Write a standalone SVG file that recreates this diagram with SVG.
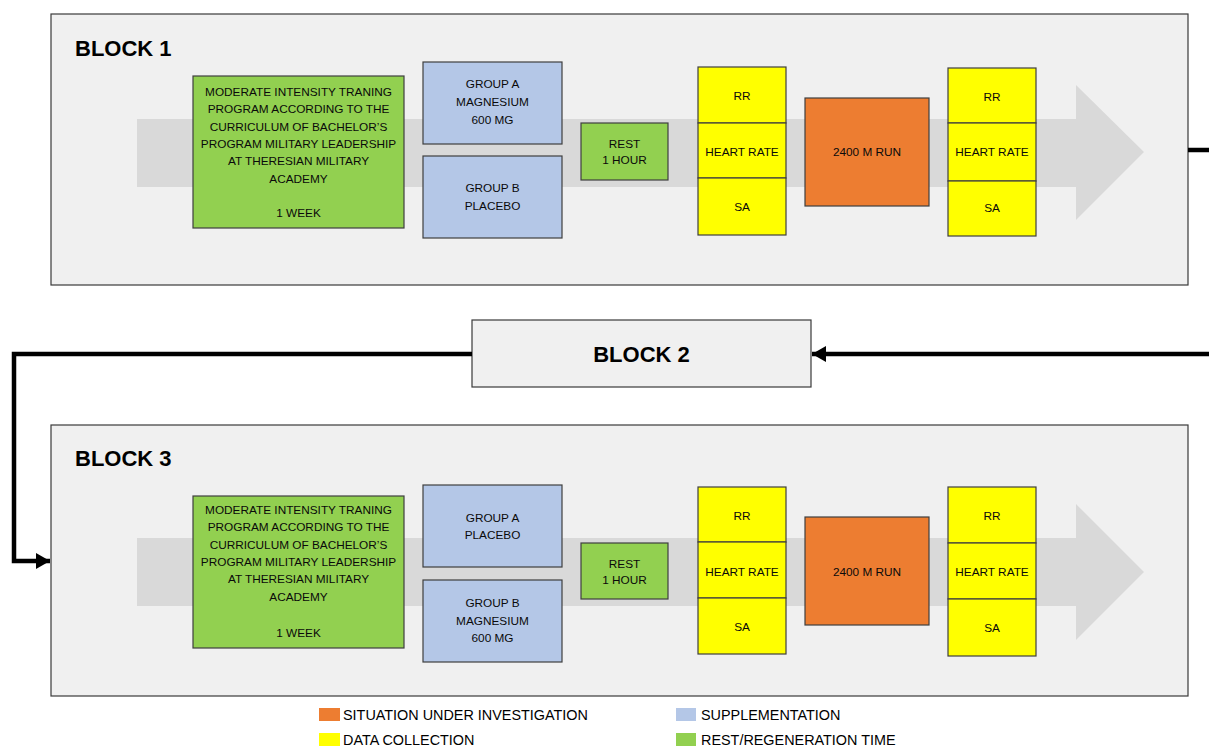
<svg xmlns="http://www.w3.org/2000/svg" width="1209" height="746" viewBox="0 0 1209 746">
<defs>
<style>
.panel{fill:#f0f0f0;stroke:#3a3a3a;stroke-width:1.2}
.flow{fill:#d9d9d9}
.box{stroke:#3f3f3f;stroke-width:1.2}
.g{fill:#92d050}
.b{fill:#b4c7e7}
.y{fill:#ffff00}
.o{fill:#ed7d31}
.t{font-family:"Liberation Sans",Arial,sans-serif;font-size:11.8px;fill:#0a0a0a;text-anchor:middle}
.title{font-family:"Liberation Sans",Arial,sans-serif;font-size:22px;font-weight:bold;fill:#000}
.leg{font-family:"Liberation Sans",Arial,sans-serif;font-size:14.4px;fill:#000}
.conn{fill:none;stroke:#000;stroke-width:4.5}
</style>
<marker id="ah" markerUnits="userSpaceOnUse" markerWidth="16" markerHeight="18" refX="14" refY="9" orient="auto">
<path d="M0,1 L14,9 L0,17 Z" fill="#000"/>
</marker>
</defs>

<g id="block1">
<rect class="panel" x="51" y="14" width="1137" height="271"/>
<text class="title" x="75" y="56">BLOCK 1</text>
<path class="flow" d="M137,119 H1076 V85 L1144,152 L1076,220 V187 H137 Z"/>
</g>
<g id="b1-training">
<rect class="box g" x="193" y="76" width="211" height="152"/>
<text class="t" x="298.5" y="96">MODERATE INTENSITY TRANING</text>
<text class="t" x="298.5" y="113.3">PROGRAM ACCORDING TO THE</text>
<text class="t" x="298.5" y="130.6">CURRICULUM OF BACHELOR’S</text>
<text class="t" x="298.5" y="147.9">PROGRAM MILITARY LEADERSHIP</text>
<text class="t" x="298.5" y="165.2">AT THERESIAN MILITARY</text>
<text class="t" x="298.5" y="182.5">ACADEMY</text>
<text class="t" x="298.5" y="217">1 WEEK</text>
</g>
<g id="b1-groupA">
<rect class="box b" x="423" y="62" width="139" height="82"/>
<text class="t" x="492.5" y="88">GROUP A</text>
<text class="t" x="492.5" y="106">MAGNESIUM</text>
<text class="t" x="492.5" y="124">600 MG</text>
</g>
<g id="b1-groupB">
<rect class="box b" x="423" y="156" width="139" height="82"/>
<text class="t" x="492.5" y="192">GROUP B</text>
<text class="t" x="492.5" y="210">PLACEBO</text>
</g>
<g id="b1-rest">
<rect class="box g" x="581" y="123" width="87" height="57"/>
<text class="t" x="624.5" y="147.5">REST</text>
<text class="t" x="624.5" y="164">1 HOUR</text>
</g>
<g id="b1-data1">
<rect class="box y" x="698" y="67" width="88" height="56"/>
<rect class="box y" x="698" y="123" width="88" height="55"/>
<rect class="box y" x="698" y="178" width="88" height="57"/>
<text class="t" x="742" y="100">RR</text>
<text class="t" x="742" y="156">HEART RATE</text>
<text class="t" x="742" y="211">SA</text>
</g>
<g id="b1-run">
<rect class="box o" x="805" y="98" width="124" height="108"/>
<text class="t" x="867" y="156">2400 M RUN</text>
</g>
<g id="b1-data2">
<rect class="box y" x="948" y="68" width="88" height="55"/>
<rect class="box y" x="948" y="123" width="88" height="58"/>
<rect class="box y" x="948" y="181" width="88" height="55"/>
<text class="t" x="992" y="100.5">RR</text>
<text class="t" x="992" y="156">HEART RATE</text>
<text class="t" x="992" y="212">SA</text>
</g>

<g id="block2">
<rect class="panel" x="472" y="320" width="339" height="67"/>
<text class="title" x="641.5" y="362" text-anchor="middle" font-size="25">BLOCK 2</text>
</g>

<g id="block3">
<rect class="panel" x="51" y="425" width="1137" height="271"/>
<text class="title" x="75" y="466">BLOCK 3</text>
<path class="flow" d="M137,538 H1076 V504 L1144,572 L1076,640 V606 H137 Z"/>
</g>
<g id="b3-training">
<rect class="box g" x="193" y="496" width="211" height="152"/>
<text class="t" x="298.5" y="514">MODERATE INTENSITY TRANING</text>
<text class="t" x="298.5" y="531.3">PROGRAM ACCORDING TO THE</text>
<text class="t" x="298.5" y="548.6">CURRICULUM OF BACHELOR’S</text>
<text class="t" x="298.5" y="565.9">PROGRAM MILITARY LEADERSHIP</text>
<text class="t" x="298.5" y="583.2">AT THERESIAN MILITARY</text>
<text class="t" x="298.5" y="600.5">ACADEMY</text>
<text class="t" x="298.5" y="637">1 WEEK</text>
</g>
<g id="b3-groupA">
<rect class="box b" x="423" y="485" width="139" height="82"/>
<text class="t" x="492.5" y="522">GROUP A</text>
<text class="t" x="492.5" y="539">PLACEBO</text>
</g>
<g id="b3-groupB">
<rect class="box b" x="423" y="580" width="139" height="82"/>
<text class="t" x="492.5" y="607">GROUP B</text>
<text class="t" x="492.5" y="625">MAGNESIUM</text>
<text class="t" x="492.5" y="642">600 MG</text>
</g>
<g id="b3-rest">
<rect class="box g" x="581" y="543" width="87" height="56"/>
<text class="t" x="624.5" y="567.5">REST</text>
<text class="t" x="624.5" y="584">1 HOUR</text>
</g>
<g id="b3-data1">
<rect class="box y" x="698" y="487" width="88" height="55"/>
<rect class="box y" x="698" y="542" width="88" height="56"/>
<rect class="box y" x="698" y="598" width="88" height="56"/>
<text class="t" x="742" y="519.5">RR</text>
<text class="t" x="742" y="575.5">HEART RATE</text>
<text class="t" x="742" y="630.5">SA</text>
</g>
<g id="b3-run">
<rect class="box o" x="805" y="517" width="124" height="108"/>
<text class="t" x="867" y="575.5">2400 M RUN</text>
</g>
<g id="b3-data2">
<rect class="box y" x="948" y="487" width="88" height="56"/>
<rect class="box y" x="948" y="543" width="88" height="56"/>
<rect class="box y" x="948" y="599" width="88" height="57"/>
<text class="t" x="992" y="519.5">RR</text>
<text class="t" x="992" y="575.5">HEART RATE</text>
<text class="t" x="992" y="631.5">SA</text>
</g>

<g id="connectors">
<path class="conn" d="M1188,150 H1212"/>
<path class="conn" d="M1212,354 H812" marker-end="url(#ah)"/>
<path class="conn" d="M472,354 H14 V561 H50" marker-end="url(#ah)"/>
</g>

<g id="legend">
<rect class="o" x="319" y="708" width="21" height="13"/>
<text class="leg" x="343" y="720">SITUATION UNDER INVESTIGATION</text>
<rect class="y" x="319" y="733" width="21" height="13"/>
<text class="leg" x="343" y="745">DATA COLLECTION</text>
<rect class="b" x="676" y="708" width="20" height="13"/>
<text class="leg" x="701" y="720">SUPPLEMENTATION</text>
<rect class="g" x="676" y="733" width="20" height="13"/>
<text class="leg" x="701" y="745">REST/REGENERATION TIME</text>
</g>
</svg>
